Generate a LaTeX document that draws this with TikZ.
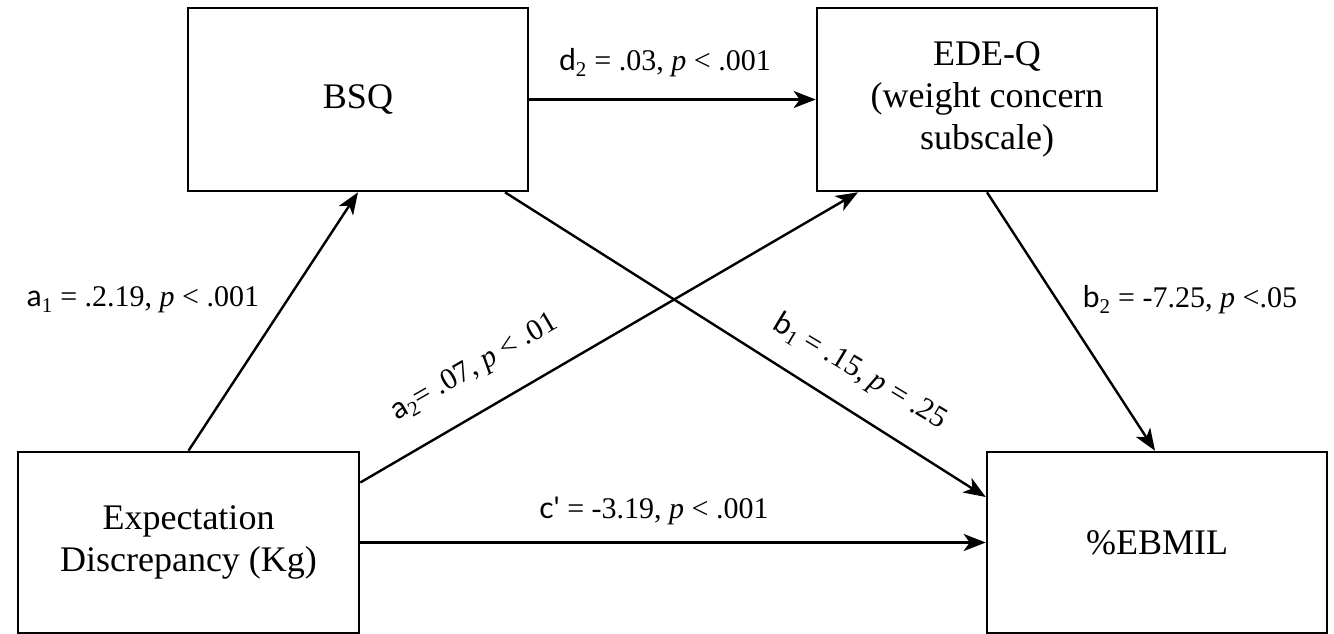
\documentclass[tikz,border=0pt]{standalone}
\usepackage{fontspec}
\setmainfont{Liberation Serif}
\newfontfamily\labsans{Lato}
\usetikzlibrary{arrows.meta}
\newcommand{\lv}[2]{{\labsans #1}\textsubscript{#2}}
\tikzset{
  box/.style={draw, line width=2.6pt, minimum width=340pt, minimum height=181pt,
    align=center, font=\fontsize{36}{42}\selectfont, inner sep=0pt},
  conn/.style={line width=2.4pt, -{Stealth[length=22pt,width=17pt,inset=6pt]}},
  lab/.style={font=\fontsize{30}{34}\selectfont, inner sep=1pt}
}
\begin{document}
\begin{tikzpicture}[x=1pt,y=-1pt]
\useasboundingbox[fill=white] (0,0) rectangle (1334,634);
\node[box, minimum height=183pt] (bsq) at (358,99.5) {BSQ};
\node[box, minimum height=183pt] (ede) at (987,99.5) {EDE-Q\\(weight concern\\subscale)};
\node[box, minimum width=341pt] (exp) at (188.5,542.5) {Expectation\\Discrepancy (Kg)};
\node[box] (eb) at (1157,542.5) {\%EBMIL};

\draw[conn] (exp.north) -- (bsq.south);
\draw[conn] ([yshift=60pt]exp.east) -- ([xshift=-129pt]ede.south);
\draw[conn] (bsq.east) -- (ede.west);
\draw[conn] ([xshift=147pt]bsq.south) -- ([yshift=45.5pt]eb.west);
\draw[conn] (ede.south) -- ([xshift=-2pt]eb.north);
\draw[conn] (exp.east) -- (eb.west);

\node[lab] (ld) at (665,63) {\lv{d}{2} = .03, \textit{p} < .001};
\node[lab] (lc) at (654,511) {{\labsans c'} = -3.19, \textit{p} < .001};
\node[lab] (la1) at (143,300) {\lv{a}{1} = .2.19, \textit{p} < .001};
\node[lab] (lb2) at (1190,300) {\lv{b}{2} = -7.25, \textit{p} <.05};
\node[lab, rotate=30] (la2) at (475,368) {\lv{a}{2}= .07, \textit{p} < .01};
\node[lab, rotate=-31] (lb1) at (860,372) {\lv{b}{1} = .15, \textit{p} = .25};
\end{tikzpicture}
\end{document}
